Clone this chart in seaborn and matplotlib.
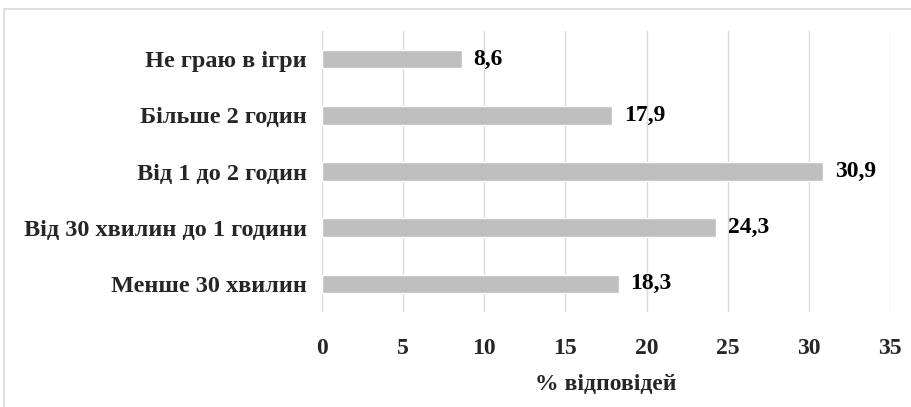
import numpy as np
import pandas as pd
import matplotlib.pyplot as plt
import seaborn as sns
from matplotlib.patches import Rectangle

# Data
categories = ['Не граю в ігри', 'Більше 2 годин', 'Від 1 до 2 годин',
              'Від 30 хвилин до 1 години', 'Менше 30 хвилин']
values = [8.6, 17.9, 30.9, 24.3, 18.3]
value_labels = ['8,6', '17,9', '30,9', '24,3', '18,3']
x_ticks = [0, 5, 10, 15, 20, 25, 30, 35]

df = pd.DataFrame({'category': categories, 'value': values})

sns.set_style('white')
plt.rcParams['font.family'] = ['Liberation Serif', 'DejaVu Serif']
plt.rcParams['font.weight'] = 'bold'

fs = 17

fig = plt.figure(figsize=(9.12, 4.07), dpi=100)
ax = fig.add_axes([322 / 912, 1 - 312 / 407, (890 - 322) / 912, (312 - 31) / 407])

# Outer frame
fig.patches.append(Rectangle((4 / 912, -0.1), 1.0, 1 - 9 / 407 + 0.1,
                             transform=fig.transFigure, fill=False,
                             edgecolor='#D9D9D9', linewidth=1.2, zorder=0))

sns.barplot(data=df, x='value', y='category', order=categories,
            color='#BFBFBF', width=0.33, saturation=1, ax=ax, zorder=3)

for i, (v, lab) in enumerate(zip(values, value_labels)):
    ax.text(v + 0.7, i, lab, va='center', ha='left',
            fontsize=fs, fontweight='bold', color='black')

ax.set_xlim(0, 35)
ax.set_xticks(x_ticks)
ax.set_xticklabels([str(t) for t in x_ticks], fontsize=fs, fontweight='bold')
ax.set_yticks(range(len(categories)))
ax.set_yticklabels(categories, fontsize=17.5, fontweight='bold')
ax.tick_params(axis='both', length=0)
ax.tick_params(axis='x', pad=18.5)
ax.tick_params(axis='y', pad=11)
ax.xaxis.grid(True, color='#D9D9D9', linewidth=1.0, zorder=0)
ax.set_axisbelow(True)
for s in ax.spines.values():
    s.set_visible(False)

ax.set_xlabel('% відповідей', fontsize=fs, fontweight='bold', labelpad=11)
ax.set_ylabel('')

fig.savefig('out.png', dpi=100)
